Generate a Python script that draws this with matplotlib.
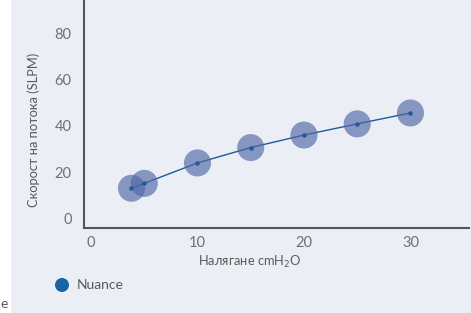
import matplotlib
matplotlib.use("Agg")
from matplotlib import pyplot as plt
from matplotlib.patches import Rectangle, Ellipse

# data
pressure = [3.8, 5, 10, 15, 20, 25, 30]
flow = [13.2, 15.3, 24.1, 30.7, 36.1, 40.9, 45.6]
x_ticks = [0, 10, 20, 30]
y_ticks = [0, 20, 40, 60, 80]
series_name = "Nuance"

plt.rcParams['font.family'] = ['Lato', 'DejaVu Sans']

fig = plt.figure(figsize=(4.71, 3.13), dpi=100)
fig.patch.set_facecolor('white')
bg = Rectangle((11 / 471, 0), 1, 1, transform=fig.transFigure,
               facecolor='#eceef5', edgecolor='none', zorder=-5)
fig.add_artist(bg)

ax = fig.add_axes([84 / 471, 1 - 228 / 313, 385 / 471, 228 / 313])
ax.set_facecolor('none')
ax.set_zorder(2)

ax.plot(pressure, flow, color='#1f5a9a', linewidth=1, zorder=2)
ax.scatter(pressure, flow, s=380, color='#4f67a6', alpha=0.65, edgecolor='none', zorder=3)
ax.scatter(pressure, flow, s=5, color='#1f5a9a', zorder=4)

ax.set_xlim(-0.66, 35.5)
ax.set_ylim(-3.9, 94.2)
ax.set_xticks(x_ticks)
ax.set_yticks(y_ticks)
ax.tick_params(length=0, labelsize=10.5, labelcolor='#707070')
ax.tick_params(axis='x', pad=6)
ax.tick_params(axis='y', pad=9)

for side in ['top', 'right']:
    ax.spines[side].set_visible(False)
for side in ['left', 'bottom']:
    ax.spines[side].set_color('#555555')
    ax.spines[side].set_linewidth(1.5)

fig.text(250 / 471, 1 - 262 / 313, 'Налягане cmH$_2$O', ha='center', va='center',
         fontsize=9.3, color='#5a5a5a')
fig.text(34 / 471, 1 - 130 / 313, 'Скорост на потока (SLPM)', ha='center', va='center',
         rotation=90, fontsize=9.3, color='#5a5a5a')

# legend
dot = Ellipse((62 / 471, 1 - 285 / 313), 14 / 471, 14 / 313, transform=fig.transFigure,
              facecolor='#1565a8', edgecolor='none', zorder=3)
fig.add_artist(dot)
fig.text(77 / 471, 1 - 285 / 313, series_name, ha='left', va='center', fontsize=10, color='#5a5a5a')

fig.text(0, 1 - 304 / 313, 'e', ha='left', va='center', fontsize=10, color='#5a5a5a')

fig.savefig('out.png', dpi=100)
